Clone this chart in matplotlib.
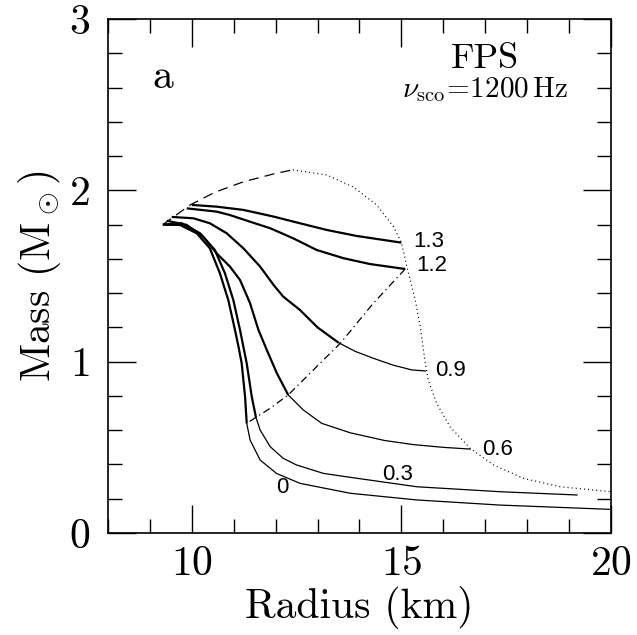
import numpy as np
import matplotlib
matplotlib.use("Agg")
from matplotlib import pyplot as plt
from matplotlib.ticker import MultipleLocator

plt.rcParams["font.family"] = "cmr10"
plt.rcParams["mathtext.fontset"] = "cm"
plt.rcParams["axes.formatter.use_mathtext"] = True

# rotation curves (radius km, mass Msun)
r_00 = [9.31, 9.72, 10.12, 10.43, 10.67, 10.87, 11.03, 11.12, 11.19, 11.27, 11.31,
        11.39, 11.63, 12.02, 12.58, 13.78, 15.37, 17.36, 20.0]
m_00 = [1.80, 1.798, 1.749, 1.662, 1.516, 1.36, 1.185, 1.08, 0.99, 0.796, 0.64,
        0.543, 0.426, 0.348, 0.29, 0.232, 0.193, 0.163, 0.138]
r_03 = [9.31, 9.76, 10.2, 10.55, 10.79, 10.99, 11.15, 11.31, 11.43, 11.53,
        11.63, 11.87, 12.18, 12.5, 13.14, 13.78, 15.37, 17.36, 19.19]
m_03 = [1.80, 1.808, 1.749, 1.652, 1.516, 1.36, 1.185, 0.99, 0.796, 0.675,
        0.601, 0.504, 0.436, 0.397, 0.348, 0.325, 0.27, 0.241, 0.222]
r_06 = [9.4, 9.88, 10.27, 10.59, 10.91, 11.15, 11.39, 11.59, 11.79, 12.03, 12.30,
        12.66, 13.10, 13.78, 14.6, 15.29, 16.0, 16.64]
m_06 = [1.823, 1.798, 1.73, 1.633, 1.555, 1.477, 1.341, 1.185, 1.068, 0.932, 0.806,
        0.718, 0.64, 0.585, 0.54, 0.516, 0.50, 0.49]
r_09 = [9.52, 10.04, 10.43, 10.83, 11.23, 11.63, 11.95, 12.18, 12.58, 13.0, 13.5,
        13.9, 14.33, 14.8, 15.25, 15.57]
m_09 = [1.845, 1.837, 1.808, 1.75, 1.662, 1.555, 1.448, 1.38, 1.302, 1.2, 1.111,
        1.06, 1.02, 0.98, 0.952, 0.946]
r_12 = [9.88, 10.59, 10.91, 11.39, 11.87, 12.42, 12.98, 13.62, 14.25, 15.09]
m_12 = [1.895, 1.876, 1.856, 1.817, 1.779, 1.72, 1.652, 1.604, 1.57, 1.541]
r_13 = [10.0, 10.59, 11.23, 11.95, 12.58, 13.22, 13.93, 15.0]
m_13 = [1.915, 1.905, 1.886, 1.847, 1.808, 1.769, 1.734, 1.695]

# radius where the thick (stable) part of each curve ends
splits = [11.31, 11.53, 12.30, 13.5, 99, 99]
curve_labels = ["0", "0.3", "0.6", "0.9", "1.2", "1.3"]

# boundary curves
r_dash = [9.31, 9.96, 10.55, 11.23, 11.95, 12.41]
m_dash = [1.80, 1.915, 1.989, 2.05, 2.096, 2.12]
r_dot = [12.41, 13.22, 13.85, 14.41, 14.81, 15.0, 15.13, 15.33, 15.45, 15.57, 15.64,
         15.84, 16.16, 16.64, 17.2, 17.91, 18.79, 20.0]
m_dot = [2.12, 2.09, 2.02, 1.915, 1.789, 1.695, 1.555, 1.36, 1.204, 0.99, 0.893,
         0.757, 0.62, 0.494, 0.397, 0.319, 0.27, 0.241]
r_dd = [15.09, 14.33, 13.54, 12.9, 12.3, 11.85, 11.53, 11.31]
m_dd = [1.541, 1.341, 1.107, 0.952, 0.806, 0.725, 0.675, 0.64]

fig = plt.figure(figsize=(6.37, 6.35), dpi=100)
ax = fig.add_axes([0.1695, 0.1606, 0.7897, 0.8094])

curves = [(r_00, m_00), (r_03, m_03), (r_06, m_06), (r_09, m_09), (r_12, m_12), (r_13, m_13)]
for (r, m), s in zip(curves, splits):
    r = np.array(r)
    m = np.array(m)
    thick = r <= s
    ax.plot(r[thick], m[thick], color="black", lw=1.6, solid_capstyle="butt")
    if (~thick).any():
        k = thick.sum() - 1
        ax.plot(r[k:], m[k:], color="black", lw=0.9)

ax.plot(r_dash, m_dash, color="black", lw=0.9, dashes=(8, 5))
ax.plot(r_dot, m_dot, color="black", lw=0.9, dashes=(0.8, 2.5))
ax.plot(r_dd, m_dd, color="black", lw=0.9, dashes=(6, 3, 1, 3))

# curve labels
lab_pos = [(12.16, 0.268, "center"), (14.91, 0.339, "center"), (16.92, 0.49, "left"),
           (15.80, 0.946, "left"), (15.36, 1.56, "left"), (15.28, 1.70, "left")]
for (x, y, ha), t in zip(lab_pos, curve_labels):
    ax.text(x, y, t, ha=ha, va="center", fontsize=16, family="Liberation Sans")

ax.text(9.31, 2.598, "a", fontsize=30, ha="center", va="baseline")
ax.text(17.0, 2.715, "FPS", fontsize=26, ha="center", va="baseline")
ax.text(17.0, 2.545, r"$\nu_{\mathrm{sco}}\!=\!1200\,\mathrm{Hz}$", fontsize=21,
        ha="center", va="baseline")

ax.set_xlim(8, 20)
ax.set_ylim(0, 3)
ax.xaxis.set_major_locator(MultipleLocator(5))
ax.xaxis.set_minor_locator(MultipleLocator(1))
ax.yaxis.set_major_locator(MultipleLocator(1))
ax.yaxis.set_minor_locator(MultipleLocator(0.2))
ax.tick_params(which="both", direction="in", top=True, right=True, width=1.0,
               labelsize=30)
ax.tick_params(which="major", length=20)
ax.tick_params(which="minor", length=10)
ax.tick_params(axis="x", pad=9)
ax.tick_params(axis="y", pad=13)
for sp in ax.spines.values():
    sp.set_linewidth(1.2)

ax.set_xlabel("Radius (km)", fontsize=30, labelpad=2)
ax.set_ylabel(r"Mass (M$_\odot$)", fontsize=30, labelpad=4)

plt.savefig("out.png", dpi=100)
plt.close()
